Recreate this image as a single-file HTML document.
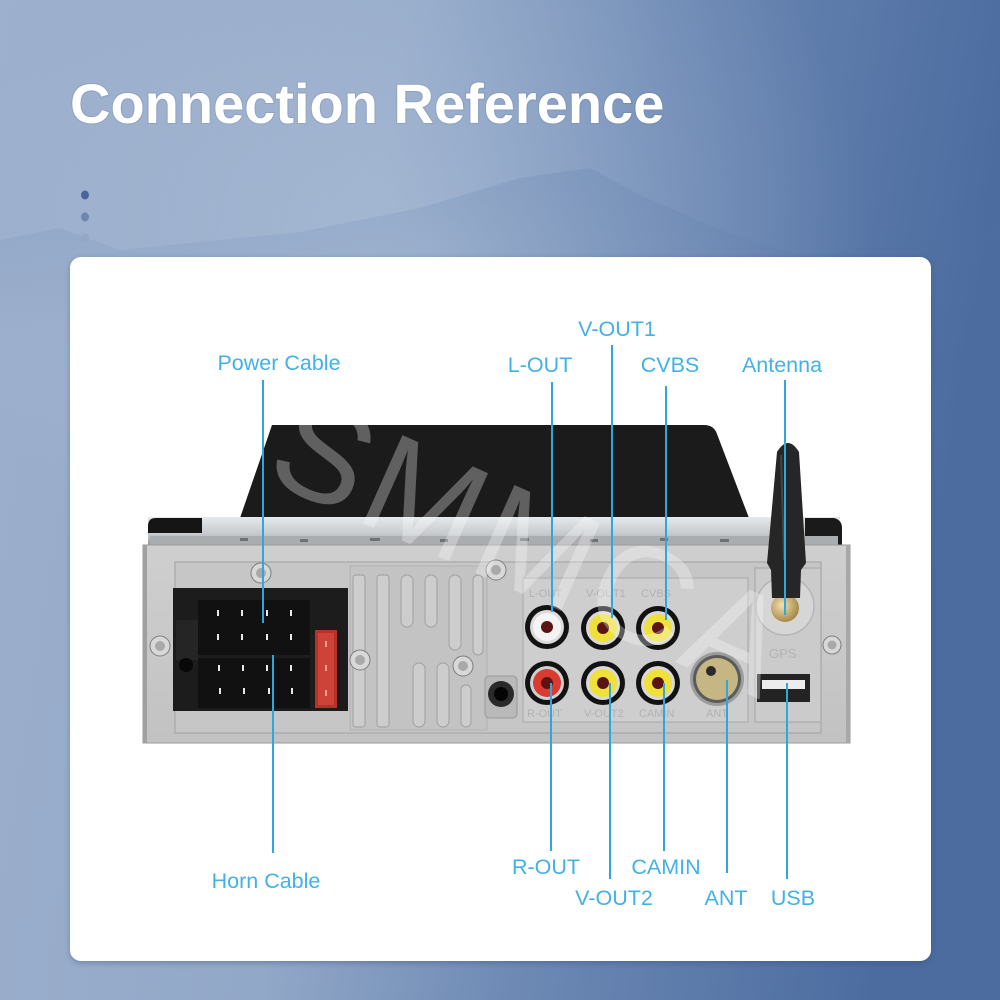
<!DOCTYPE html>
<html><head><meta charset="utf-8"><style>
html,body{margin:0;padding:0;width:1000px;height:1000px;overflow:hidden;}
svg{display:block;}
</style></head><body>
<svg width="1000" height="1000" viewBox="0 0 1000 1000" xmlns="http://www.w3.org/2000/svg">
<defs>
<linearGradient id="bg" x1="0" y1="0" x2="1" y2="0.15">
<stop offset="0" stop-color="#9db0cd"/>
<stop offset="0.4" stop-color="#92a8c8"/>
<stop offset="0.65" stop-color="#6d89b4"/>
<stop offset="1" stop-color="#4c6ca0"/>
</linearGradient>
<radialGradient id="haze" cx="0.42" cy="0.25" r="0.45">
<stop offset="0" stop-color="#b8c8de" stop-opacity="0.5"/>
<stop offset="1" stop-color="#b8c8de" stop-opacity="0"/>
</radialGradient>
<linearGradient id="mtn" x1="0" y1="0" x2="0" y2="1">
<stop offset="0" stop-color="#52709f" stop-opacity="0.18"/>
<stop offset="1" stop-color="#52709f" stop-opacity="0"/>
</linearGradient>
<linearGradient id="band" x1="0" y1="0" x2="0" y2="1">
<stop offset="0" stop-color="#e6e9eb"/>
<stop offset="0.6" stop-color="#c5c9cc"/>
<stop offset="1" stop-color="#8f9498"/>
</linearGradient>
<linearGradient id="plate" x1="0" y1="0" x2="0" y2="1">
<stop offset="0" stop-color="#cfcfcf"/>
<stop offset="1" stop-color="#c2c2c2"/>
</linearGradient>
<radialGradient id="gold" cx="0.4" cy="0.4" r="0.6">
<stop offset="0" stop-color="#f2e2b0"/>
<stop offset="1" stop-color="#a88a4a"/>
</radialGradient>
<filter id="sh" x="-10%" y="-10%" width="120%" height="120%"><feDropShadow dx="0" dy="2" stdDeviation="3" flood-color="#2a3b5a" flood-opacity="0.35"/></filter>
</defs>

<!-- background -->
<rect width="1000" height="1000" fill="url(#bg)"/>
<rect width="1000" height="1000" fill="url(#haze)"/>
<polygon points="0,240 60,228 120,250 300,232 420,208 520,178 590,168 640,195 720,230 800,255 900,245 1000,225 1000,340 0,340" fill="url(#mtn)"/>

<!-- title -->
<text x="70" y="123" font-family="Liberation Sans, Arial, sans-serif" font-weight="bold" font-size="56" fill="#ffffff" style="paint-order:stroke" stroke="rgba(60,80,120,0.15)" stroke-width="2">Connection Reference</text>

<!-- dots -->
<ellipse cx="85" cy="195" rx="4" ry="4.5" fill="#4a6599"/>
<ellipse cx="85" cy="217" rx="4" ry="4.5" fill="#6e86b0"/>
<ellipse cx="85" cy="238" rx="4" ry="4.5" fill="#93a7c6"/>

<!-- card -->
<rect x="70" y="257" width="861" height="704" rx="11" fill="#ffffff" filter="url(#sh)"/>

<!-- device -->
<path d="M240,518 L272,425 L704,425 Q714,425 717,434 L749,518 Z" fill="#1b1b1b"/>
<rect x="148" y="517" width="692" height="29" fill="url(#band)"/>
<path d="M148,533 L148,526 Q148,518 156,518 L202,518 L202,533 Z" fill="#151515"/>
<path d="M805,518 L834,518 Q842,520 842,528 L842,546 L805,546 Z" fill="#1a1a1a"/>
<rect x="150" y="536" width="688" height="9" fill="#a9adb0"/>
<g fill="#6d7276">
<rect x="240" y="538" width="8" height="3"/><rect x="300" y="539" width="8" height="3"/><rect x="370" y="538" width="10" height="3"/><rect x="440" y="539" width="8" height="3"/><rect x="520" y="538" width="9" height="3"/><rect x="590" y="539" width="8" height="3"/><rect x="660" y="538" width="8" height="3"/><rect x="720" y="539" width="9" height="3"/>
</g>
<rect x="143" y="545" width="707" height="198" fill="url(#plate)" stroke="#9a9a9a" stroke-width="1"/>
<rect x="143" y="545" width="4" height="198" fill="#a0a0a0"/>
<rect x="846" y="545" width="4" height="198" fill="#a8a8a8"/>
<rect x="175" y="562" width="646" height="171" fill="#c6c6c6" stroke="#adadad" stroke-width="1.5"/>

<!-- vent ribs -->
<rect x="350" y="566" width="137" height="164" fill="#c3c3c3" stroke="#b0b0b0"/>
<g fill="#cdcdcd" stroke="#a6a6a6" stroke-width="1.2">
<rect x="353" y="575" width="12" height="152" rx="3"/>
<rect x="377" y="575" width="12" height="152" rx="3"/>
<rect x="401" y="575" width="12" height="52" rx="6"/>
<rect x="425" y="575" width="12" height="52" rx="6"/>
<rect x="449" y="575" width="12" height="75" rx="6"/>
<rect x="473" y="575" width="10" height="80" rx="5"/>
<rect x="413" y="663" width="12" height="64" rx="6"/>
<rect x="437" y="663" width="12" height="64" rx="6"/>
<rect x="461" y="685" width="10" height="42" rx="5"/>
</g>
<rect x="485" y="676" width="32" height="42" rx="4" fill="#b9b9b9" stroke="#999"/>
<circle cx="501" cy="694" r="13" fill="#2a2a2a"/>
<circle cx="501" cy="694" r="7" fill="#050505"/>

<!-- connector -->
<rect x="173" y="588" width="175" height="123" fill="#1c1c1c"/>
<rect x="198" y="600" width="112" height="55" fill="#111"/>
<rect x="198" y="658" width="112" height="50" fill="#111"/>
<rect x="176" y="620" width="22" height="40" fill="#252525"/>
<circle cx="186" cy="665" r="7" fill="#080808"/>
<g fill="#e8e8e8">
<rect x="217" y="610" width="2" height="6"/><rect x="241" y="610" width="2" height="6"/><rect x="266" y="610" width="2" height="6"/><rect x="290" y="610" width="2" height="6"/>
<rect x="217" y="634" width="2" height="6"/><rect x="241" y="634" width="2" height="6"/><rect x="266" y="634" width="2" height="6"/><rect x="290" y="634" width="2" height="6"/>
<rect x="218" y="665" width="2" height="6"/><rect x="242" y="665" width="2" height="6"/><rect x="266" y="665" width="2" height="6"/><rect x="290" y="665" width="2" height="6"/>
<rect x="219" y="688" width="2" height="6"/><rect x="243" y="688" width="2" height="6"/><rect x="268" y="688" width="2" height="6"/><rect x="291" y="688" width="2" height="6"/>
</g>
<rect x="315" y="630" width="22" height="78" fill="#b8302a"/>
<rect x="318" y="633" width="16" height="72" fill="#d2493e" opacity="0.8"/>
<g fill="#f0a090"><rect x="325" y="641" width="2" height="6"/><rect x="325" y="665" width="2" height="6"/><rect x="325" y="690" width="2" height="6"/></g>

<!-- screws -->
<g stroke="#7d7d7d" stroke-width="1">
<circle cx="261" cy="573" r="10" fill="#d8d8d8"/>
<circle cx="160" cy="646" r="10" fill="#d8d8d8"/>
<circle cx="360" cy="660" r="10" fill="#d8d8d8"/>
<circle cx="463" cy="666" r="10" fill="#d8d8d8"/>
<circle cx="496" cy="570" r="10" fill="#d8d8d8"/>
<circle cx="572" cy="655" r="9" fill="#d8d8d8"/>
<circle cx="629" cy="655" r="9" fill="#d8d8d8"/>
<circle cx="832" cy="645" r="9" fill="#d8d8d8"/>
</g>
<g fill="#a9a9a9">
<circle cx="261" cy="573" r="5"/><circle cx="160" cy="646" r="5"/><circle cx="360" cy="660" r="5"/><circle cx="463" cy="666" r="5"/><circle cx="496" cy="570" r="5"/><circle cx="572" cy="655" r="4.5"/><circle cx="629" cy="655" r="4.5"/><circle cx="832" cy="645" r="4.5"/>
</g>

<!-- RCA panel -->
<rect x="523" y="578" width="225" height="144" fill="#cecece" stroke="#b3b3b3" stroke-width="1.5"/>
<g font-family="Liberation Sans, Arial, sans-serif" font-size="11" fill="#b2b2b2">
<text x="529" y="597">L-OUT</text><text x="586" y="597">V-OUT1</text><text x="641" y="597">CVBS</text>
<text x="527" y="717">R-OUT</text><text x="584" y="717">V-OUT2</text><text x="639" y="717">CAMIN</text><text x="706" y="717">ANT</text>
</g>
<g>
<circle cx="547" cy="627" r="22" fill="#121212"/><circle cx="547" cy="627" r="17" fill="#dcdcdc"/><circle cx="547" cy="627" r="14" fill="#f4f4f4"/><circle cx="547" cy="627" r="6" fill="#5a1414"/>
<circle cx="603" cy="628" r="22" fill="#121212"/><circle cx="603" cy="628" r="17" fill="#d9d9d9"/><circle cx="603" cy="628" r="14" fill="#efe03a"/><circle cx="603" cy="628" r="6" fill="#5a1414"/>
<circle cx="658" cy="628" r="22" fill="#121212"/><circle cx="658" cy="628" r="17" fill="#d9d9d9"/><circle cx="658" cy="628" r="14" fill="#efe03a"/><circle cx="658" cy="628" r="6" fill="#5a1414"/>
<circle cx="547" cy="683" r="22" fill="#121212"/><circle cx="547" cy="683" r="17" fill="#d0d0d0"/><circle cx="547" cy="683" r="14" fill="#d93b31"/><circle cx="547" cy="683" r="6" fill="#5a1414"/>
<circle cx="603" cy="683" r="22" fill="#121212"/><circle cx="603" cy="683" r="17" fill="#d9d9d9"/><circle cx="603" cy="683" r="14" fill="#efe03a"/><circle cx="603" cy="683" r="6" fill="#5a1414"/>
<circle cx="658" cy="683" r="22" fill="#121212"/><circle cx="658" cy="683" r="17" fill="#d9d9d9"/><circle cx="658" cy="683" r="14" fill="#efe03a"/><circle cx="658" cy="683" r="6" fill="#5a1414"/>
</g>
<circle cx="717" cy="679" r="27" fill="#9c9c9c"/>
<circle cx="717" cy="679" r="24" fill="#5b5b5b"/>
<circle cx="717" cy="679" r="21" fill="#c6b684"/>
<circle cx="711" cy="671" r="5" fill="#2a2a2a"/>

<!-- GPS panel -->
<rect x="755" y="568" width="66" height="154" fill="#cbcbcb" stroke="#b0b0b0" stroke-width="1.5"/>
<text x="769" y="658" font-family="Liberation Sans, Arial, sans-serif" font-size="13" fill="#b3b3b3">GPS</text>
<rect x="757" y="674" width="53" height="28" fill="#232323"/>
<rect x="762" y="680" width="43" height="9" fill="#ececec"/>
<circle cx="785" cy="606" r="29" fill="#d6d6d6" stroke="#b5b5b5" stroke-width="1.5"/>
<circle cx="785" cy="608" r="14" fill="url(#gold)"/>
<path d="M777,452 Q788,434 799,452 L806,563 L801,570 L800,598 L772,598 L771,570 L767,563 Z" fill="#262626"/>
<path d="M781,455 L784,560" stroke="#444" stroke-width="2" fill="none"/>

<!-- watermark -->
<text x="0" y="0" transform="translate(262,478) rotate(24)" font-family="Liberation Sans, Arial, sans-serif" font-size="140" fill="#ffffff" opacity="0.3" letter-spacing="6">SMMCA</text>

<!-- connector lines -->
<g stroke="#2ea7de" stroke-width="2" fill="none">
<line x1="263" y1="380" x2="263" y2="623"/>
<line x1="273" y1="655" x2="273" y2="853"/>
<line x1="552" y1="382" x2="552" y2="612"/>
<line x1="612" y1="345" x2="612" y2="618"/>
<line x1="666" y1="386" x2="666" y2="620"/>
<line x1="785" y1="380" x2="785" y2="615"/>
<line x1="551" y1="683" x2="551" y2="851"/>
<line x1="610" y1="683" x2="610" y2="879"/>
<line x1="664" y1="683" x2="664" y2="851"/>
<line x1="727" y1="680" x2="727" y2="873"/>
<line x1="787" y1="683" x2="787" y2="879"/>
</g>

<!-- labels -->
<g font-family="Liberation Sans, Arial, sans-serif" font-size="21.5" fill="#41b1e6" text-anchor="middle">
<text x="279" y="370">Power Cable</text>
<text x="266" y="888">Horn Cable</text>
<text x="540" y="372">L-OUT</text>
<text x="617" y="336">V-OUT1</text>
<text x="670" y="372">CVBS</text>
<text x="782" y="372">Antenna</text>
<text x="546" y="874">R-OUT</text>
<text x="614" y="905">V-OUT2</text>
<text x="666" y="874">CAMIN</text>
<text x="726" y="905">ANT</text>
<text x="793" y="905">USB</text>
</g>
</svg>
</body></html>
